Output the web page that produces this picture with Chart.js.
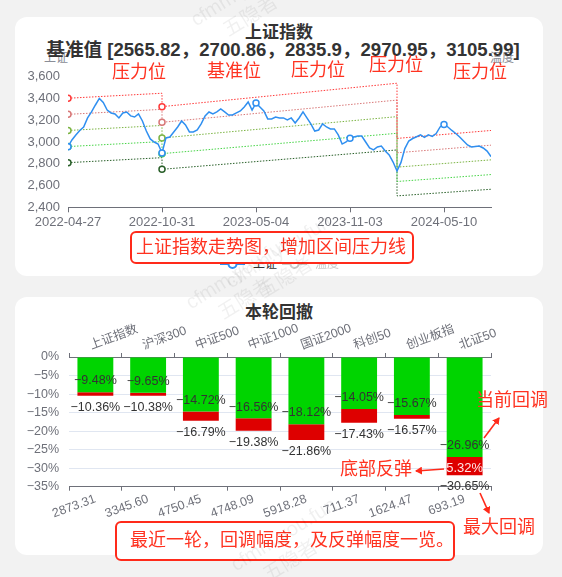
<!DOCTYPE html>
<html>
<head>
<meta charset="utf-8">
<script src="https://cdn.jsdelivr.net/npm/chart.js@4.4.1/dist/chart.umd.min.js"></script>
<style>
html, body { margin: 0; padding: 0; }
body { width: 562px; height: 577px; background: #f2f2f2; position: relative; overflow: hidden;
       font-family: 'Liberation Sans', 'Noto Sans CJK SC', sans-serif; }
.card { position: absolute; left: 15px; width: 528px; background: #fff; border-radius: 12px; }
.t { position: absolute; white-space: nowrap; line-height: 1; transform: translate(-50%, -50%); }
.title { color: #333; font-weight: bold; font-size: 17px; }
.note { color: #ff3220; font-size: 18px; }
.axname { color: #8a8d96; font-size: 12px; }
.box { position: absolute; border: 2px solid #ff2a1a; border-radius: 6px; background: #fff; box-sizing: border-box; }
canvas { position: absolute; }
.legend { position: absolute; top: 257px; left: 218px; font-size: 12px; line-height: 14px; }
.legend span { position: absolute; white-space: nowrap; }
.wm { position: absolute; white-space: nowrap; line-height: 1.3; color: rgba(0,0,0,0.06); font-size: 20px;
      transform: translate(-50%, -50%) rotate(-32deg); pointer-events: none; }
</style>
</head>
<body>
<div class="card" style="top:17px;height:259px"></div>
<div class="card" style="top:297px;height:258px"></div>

<div class="t axname" style="left:56px;top:58px">上证</div>
<div class="t axname" style="left:502px;top:58px">温度</div>
<div class="t title" style="left:279px;top:32px">上证指数</div>
<div class="t title" style="left:283px;top:50px;font-size:18.6px">基准值 [2565.82，2700.86，2835.9，2970.95，3105.99]</div>

<canvas id="szChart" width="543" height="180" style="left:0;top:60px"></canvas>

<div class="t note" style="left:139px;top:72px">压力位</div>
<div class="t note" style="left:234px;top:71px">基准位</div>
<div class="t note" style="left:318px;top:70px">压力位</div>
<div class="t note" style="left:396px;top:65px">压力位</div>
<div class="t note" style="left:480px;top:72px">压力位</div>

<div class="legend">
  <svg width="120" height="14" style="position:absolute;left:0;top:0">
    <line x1="2" y1="7" x2="27" y2="7" stroke="#2f8ff0" stroke-width="2"/>
    <circle cx="14.5" cy="7" r="4" fill="#fff" stroke="#2f8ff0" stroke-width="2"/>
    <line x1="64" y1="7" x2="89" y2="7" stroke="#ccc" stroke-width="2"/>
    <circle cx="76.5" cy="7" r="4" fill="#fff" stroke="#ccc" stroke-width="2"/>
  </svg>
  <span style="left:35px;color:#333">上证</span>
  <span style="left:97px;color:#ccc">温度</span>
</div>

<div class="box" style="left:130px;top:231px;width:284px;height:33px"></div>
<div class="t note" style="left:271px;top:247px">上证指数走势图，增加区间压力线</div>

<div class="t title" style="left:279px;top:312px">本轮回撤</div>
<canvas id="ddChart" width="543" height="200" style="left:0;top:318px"></canvas>

<div class="t note" style="left:512px;top:400px">当前回调</div>
<div class="t note" style="left:376px;top:469px">底部反弹</div>
<div class="t note" style="left:499px;top:527px">最大回调</div>

<svg width="562" height="577" style="position:absolute;left:0;top:0">
  <defs>
    <marker id="ah" markerWidth="8" markerHeight="8" refX="6" refY="4" orient="auto" markerUnits="userSpaceOnUse">
      <path d="M0,0 L7,4 L0,8 z" fill="#ff2a1a"/>
    </marker>
  </defs>
  <line x1="484" y1="438" x2="499" y2="418" stroke="#ff2a1a" stroke-width="1.6" marker-end="url(#ah)"/>
  <line x1="444" y1="469" x2="416" y2="471" stroke="#ff2a1a" stroke-width="1.6" marker-end="url(#ah)"/>
  <line x1="480" y1="493" x2="489" y2="513" stroke="#ff2a1a" stroke-width="1.6" marker-end="url(#ah)"/>
</svg>

<div class="box" style="left:115px;top:521px;width:340px;height:40px"></div>
<div class="t note" style="left:292px;top:540px">最近一轮，回调幅度，及反弹幅度一览。</div>

<div class="wm" style="left:250px;top:0px">cfmm.you.fun<br>&nbsp;&nbsp;&nbsp;&nbsp;五隐者</div>
<div class="wm" style="left:245px;top:283px">cfmm.you.fun<br>&nbsp;&nbsp;&nbsp;&nbsp;五隐者</div>
<div class="wm" style="left:285px;top:262px">cfmm.you.fun<br>&nbsp;&nbsp;&nbsp;&nbsp;五隐者</div>
<div class="wm" style="left:290px;top:545px">cfmm.you.fun<br>&nbsp;&nbsp;&nbsp;&nbsp;五隐者</div>

<script>
// ---- 上证指数 (weekly closes) ----
const tickLabels = ['2022-04-27', '2022-10-31', '2023-05-04', '2023-11-03', '2024-05-10'];
const tickIndex = [0, 24, 48, 72, 96];
const szClose = [
  2957, 3019, 3065, 3106, 3138, 3221, 3276, 3340, 3400, 3363, 3294, 3267, 3258,
  3221, 3267, 3276, 3240, 3230, 3258, 3193, 3101, 3028, 3000, 2981, 2899,
  3037, 3046, 3092, 3138, 3193, 3157, 3092, 3092, 3110, 3166, 3240, 3276, 3258,
  3276, 3303, 3276, 3248, 3248, 3267, 3285, 3322, 3368, 3294, 3359, 3322, 3285,
  3212, 3212, 3230, 3221, 3221, 3203, 3221, 3175, 3221, 3276, 3221, 3166, 3101,
  3110, 3166, 3138, 3120, 3120, 3065, 2981, 3000, 3034, 3046, 3055, 3055, 3000,
  2945, 2927, 2954, 2963, 2917, 2881, 2816, 2734,
  2810, 2940, 3009, 3032, 3048, 3065, 3042, 3065, 3051, 3078, 3138, 3161, 3138,
  3106, 3078, 3046, 3009, 2973, 2954, 2959, 2963, 2945, 2917, 2865
];

// 区间压力线: start / end value of each of the three segments
const segmentX   = [0, 24, 24, 84, 84, 108];
const lineRed    = [3402, 3448, 3325, 3540, 3033, 3105.99];
const lineRose   = [3254, 3300, 3181, 3385, 2901, 2970.95];
const lineOlive  = [3106, 3152, 3037, 3233, 2769, 2835.9];
const lineGreen  = [2958, 3004, 2893, 3080, 2637, 2700.86];
const lineDark   = [2810, 2856, 2749, 2927, 2505, 2565.82];

// ---- 本轮回撤 ----
const indexNames = ['上证指数', '沪深300', '中证500', '中证1000', '国证2000', '科创50', '创业板指', '北证50'];
const indexPrices = ['2873.31', '3345.60', '4750.45', '4748.09', '5918.28', '711.37', '1624.47', '693.19'];
const currentDrawdown = [-9.48, -9.65, -14.72, -16.56, -18.12, -14.05, -15.67, -26.96];
const maxDrawdown = [-10.36, -10.38, -16.79, -19.38, -21.86, -17.43, -16.57, -30.65];
const reboundBar = [-0.97, -0.82, -2.45, -3.35, -4.3, -3.7, -1.0, -4.95];
const reboundLabels = ['', '', '', '', '', '', '', '5.32%'];

const AXIS = '#6e7079';
const FONT = "'Liberation Sans', 'Noto Sans CJK SC', sans-serif";
const minus = v => String(v).replace('-', '\u2212');

function channel(values, color) {
  return {
    data: values.map((v, i) => ({ x: segmentX[i], y: v })),
    borderColor: color,
    borderWidth: 1,
    borderDash: [1.5, 1.5],
    pointRadius: [3, 0, 3, 0, 0, 0],
    pointBorderWidth: 1.5,
    pointBorderColor: color,
    pointBackgroundColor: '#fff',
    tension: 0
  };
}

new Chart(document.getElementById('szChart'), {
  type: 'line',
  data: {
    datasets: [
      {
        label: '上证',
        data: szClose.map((v, i) => ({ x: i, y: v })),
        borderColor: '#2f8ff0',
        borderWidth: 1.5,
        pointRadius: ctx => (ctx.dataIndex % 24 === 0 ? 3 : 0),
        pointBorderWidth: 1.5,
        pointBorderColor: '#2f8ff0',
        pointBackgroundColor: '#fff',
        tension: 0
      },
      channel(lineRed, '#ff3a3a'),
      channel(lineRose, '#d87878'),
      channel(lineOlive, '#7cb444'),
      channel(lineGreen, '#48d448'),
      channel(lineDark, '#2a602a')
    ]
  },
  options: {
    responsive: false,
    animation: false,
    layout: { padding: { left: 0, right: 52, top: 16.7, bottom: 0 } },
    plugins: { legend: { display: false }, tooltip: { enabled: false } },
    scales: {
      x: {
        type: 'linear', min: 0, max: 108,
        afterBuildTicks: s => { s.ticks = tickIndex.map(v => ({ value: v })); },
        afterFit: s => { s.height = 32.7; },
        ticks: { callback: (v, i) => tickLabels[i], color: AXIS, font: { family: FONT, size: 13 }, maxRotation: 0, autoSkip: false, padding: 2 },
        grid: { drawOnChartArea: false, tickLength: 5, color: AXIS },
        border: { color: AXIS }
      },
      y: {
        min: 2400, max: 3600,
        afterFit: s => { s.width = 68; },
        ticks: { stepSize: 200, color: AXIS, font: { family: FONT, size: 13 }, padding: 8 },
        grid: { display: false, drawTicks: false },
        border: { display: false }
      }
    }
  }
});

const barLabels = {
  id: 'barLabels',
  afterDatasetsDraw(chart) {
    const ctx = chart.ctx;
    const green = chart.getDatasetMeta(0).data;
    const red = chart.getDatasetMeta(1).data;
    ctx.save();
    ctx.font = '12.5px ' + FONT;
    ctx.textAlign = 'center';
    ctx.textBaseline = 'middle';
    green.forEach((bar, i) => {
      ctx.fillStyle = '#333';
      ctx.fillText(minus(currentDrawdown[i].toFixed(2)) + '%', bar.x, bar.y - 11.3);
      ctx.fillText(minus(maxDrawdown[i].toFixed(2)) + '%', red[i].x, red[i].y + 11.5);
      if (reboundLabels[i]) {
        ctx.fillStyle = '#ffe8e8';
        ctx.font = '13px ' + FONT;
        ctx.fillText(reboundLabels[i], red[i].x, (red[i].y + red[i].base) / 2 + 2.4);
        ctx.font = '12.5px ' + FONT;
      }
    });
    ctx.restore();
  }
};

new Chart(document.getElementById('ddChart'), {
  type: 'bar',
  data: {
    labels: indexPrices,
    datasets: [
      { label: '当前回调', data: currentDrawdown, backgroundColor: '#00d400', barPercentage: 0.68, categoryPercentage: 1 },
      { label: '底部反弹', data: reboundBar, backgroundColor: '#de0000', barPercentage: 0.68, categoryPercentage: 1 }
    ]
  },
  options: {
    responsive: false,
    animation: false,
    layout: { padding: { left: 0, right: 52, top: 0, bottom: 0 } },
    plugins: { legend: { display: false }, tooltip: { enabled: false } },
    scales: {
      x: {
        type: 'category', position: 'bottom', stacked: true,
        labels: indexPrices,
        afterFit: s => { s.height = 31.3; },
        ticks: { color: AXIS, font: { family: FONT, size: 12.5 }, minRotation: 20, maxRotation: 20, autoSkip: false, padding: 1 },
        grid: { drawOnChartArea: false, tickLength: 4, color: AXIS },
        border: { color: AXIS }
      },
      xTop: {
        type: 'category', position: 'top',
        labels: indexNames,
        afterFit: s => { s.height = 39; },
        ticks: { color: AXIS, font: { family: FONT, size: 12.5 }, minRotation: 20, maxRotation: 20, autoSkip: false, padding: 0 },
        grid: { drawOnChartArea: false, tickLength: 4, color: AXIS, offset: true },
        border: { color: AXIS }
      },
      y: {
        stacked: true, min: -35, max: 0,
        afterFit: s => { s.width = 69; },
        ticks: { stepSize: 5, color: AXIS, font: { family: FONT, size: 12.5 }, padding: 10, callback: v => minus(v) + '%' },
        grid: { color: '#e0e6f1', drawTicks: false },
        border: { display: false }
      }
    }
  },
  plugins: [barLabels]
});
</script>
</body>
</html>
